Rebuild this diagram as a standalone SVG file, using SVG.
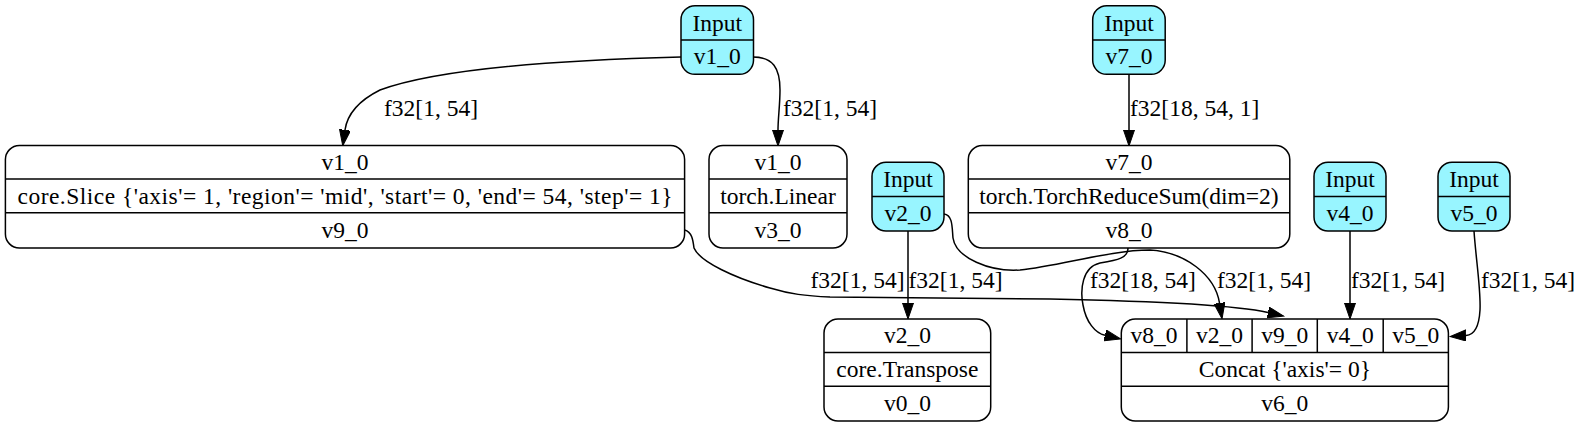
<svg xmlns="http://www.w3.org/2000/svg" width="1578" height="427" viewBox="0 0 1578 427" font-family="'Liberation Serif', 'Times New Roman', Tinos, 'DejaVu Serif', serif">
<style>
text{font-family:'Liberation Serif','Times New Roman',Tinos,'DejaVu Serif',serif;font-size:23.5px;fill:#000}
.c{text-anchor:middle}
.box{fill:#fff;stroke:#000;stroke-width:1.5}
.inp{fill:#98f5ff;stroke:#000;stroke-width:1.5}
.div{stroke:#000;stroke-width:1.5;fill:none}
.edge{fill:none;stroke:#000;stroke-width:1.5;marker-end:url(#arr)}
</style>
<defs>
<marker id="arr" markerUnits="userSpaceOnUse" markerWidth="17" markerHeight="12" refX="0" refY="5.5" orient="auto" viewBox="0 0 17 12">
<path d="M0,0 L16,5.5 L0,11 z" fill="#000" stroke="#000" stroke-width="1"/>
</marker>
</defs>
<rect width="1578" height="427" fill="#fff"/>
<g id="connectors">
<path class="edge" d="M681,57 C560,60 440,68 380,90 C356,102 347,116 345,130"/>
<text x="384" y="116">f32[1, 54]</text>
<path class="edge" d="M753,57 C773,57 780,68 780,90 C780,105 778,118 778,130"/>
<text x="783" y="116">f32[1, 54]</text>
<path class="edge" d="M1129,74 L1129,130"/>
<text x="1130" y="116">f32[18, 54, 1]</text>
<path class="edge" d="M908,231 L908,303"/>
<text x="908.5" y="288">f32[1, 54]</text>
<path class="edge" d="M1350,231 L1350,303"/>
<text x="1351" y="288">f32[1, 54]</text>
<path class="edge" d="M1474,231 C1476,260 1481,290 1480,310 C1479,328 1474,335 1466,335.5"/>
<text x="1481" y="288">f32[1, 54]</text>
<path class="edge" d="M1128,248 C1128,258 1118,260 1100,263 C1082,267 1080,290 1083,305 C1086,322 1095,333 1105,335.3"/>
<text x="1090" y="288">f32[18, 54]</text>
<path class="edge" d="M944,214 C953,215 952,228 953,238 C956,258 990,272 1020,270 C1060,266 1110,250 1150,250 C1185,252 1215,275 1219.5,303"/>
<text x="1217" y="288">f32[1, 54]</text>
<path class="edge" d="M684.6,230 C692,232 693,240 694,248 C700,262 735,278 770,288 C790,294 805,296 830,297 L1050,299 C1150,301 1235,305 1268,312.5"/>
<text x="810.5" y="288">f32[1, 54]</text>
</g>
<g id="in_v1_0">
<rect class="inp" x="681" y="5.7" width="72.5" height="68.6" rx="14"/>
<line class="div" x1="681" y1="40" x2="753.5" y2="40"/>
<text class="c" x="717.2" y="30.5">Input</text>
<text class="c" x="717.2" y="64">v1_0</text>
</g>
<g id="in_v7_0">
<rect class="inp" x="1092.7" y="5.7" width="72.5" height="68.6" rx="14"/>
<line class="div" x1="1092.7" y1="40" x2="1165.2" y2="40"/>
<text class="c" x="1129" y="30.5">Input</text>
<text class="c" x="1129" y="64">v7_0</text>
</g>
<g id="in_v2_0">
<rect class="inp" x="872" y="162.3" width="72" height="68.7" rx="14"/>
<line class="div" x1="872" y1="196.5" x2="944" y2="196.5"/>
<text class="c" x="908" y="187">Input</text>
<text class="c" x="908" y="221">v2_0</text>
</g>
<g id="in_v4_0">
<rect class="inp" x="1314" y="162.3" width="72" height="68.7" rx="14"/>
<line class="div" x1="1314" y1="196.5" x2="1386" y2="196.5"/>
<text class="c" x="1350" y="187">Input</text>
<text class="c" x="1350" y="221">v4_0</text>
</g>
<g id="in_v5_0">
<rect class="inp" x="1438" y="162.3" width="72" height="68.7" rx="14"/>
<line class="div" x1="1438" y1="196.5" x2="1510" y2="196.5"/>
<text class="c" x="1474" y="187">Input</text>
<text class="c" x="1474" y="221">v5_0</text>
</g>
<g id="slice">
<rect class="box" x="5.4" y="145.5" width="679.2" height="102.5" rx="14"/>
<line class="div" x1="5.4" y1="179" x2="684.6" y2="179"/>
<line class="div" x1="5.4" y1="212.7" x2="684.6" y2="212.7"/>
<text class="c" x="345" y="170">v1_0</text>
<text class="c" x="345" y="203.5" textLength="655" lengthAdjust="spacing">core.Slice {'axis'= 1, 'region'= 'mid', 'start'= 0, 'end'= 54, 'step'= 1}</text>
<text class="c" x="345" y="238">v9_0</text>
</g>
<g id="linear">
<rect class="box" x="709" y="145.5" width="138" height="102.5" rx="14"/>
<line class="div" x1="709" y1="179" x2="847" y2="179"/>
<line class="div" x1="709" y1="212.7" x2="847" y2="212.7"/>
<text class="c" x="778" y="170">v1_0</text>
<text class="c" x="778" y="203.5">torch.Linear</text>
<text class="c" x="778" y="238">v3_0</text>
</g>
<g id="reducesum">
<rect class="box" x="968.3" y="145.5" width="321.5" height="102.5" rx="14"/>
<line class="div" x1="968.3" y1="179" x2="1289.8" y2="179"/>
<line class="div" x1="968.3" y1="212.7" x2="1289.8" y2="212.7"/>
<text class="c" x="1129" y="170">v7_0</text>
<text class="c" x="1129" y="203.5">torch.TorchReduceSum(dim=2)</text>
<text class="c" x="1129" y="238">v8_0</text>
</g>
<g id="transpose">
<rect class="box" x="824" y="319" width="166.7" height="102" rx="14"/>
<line class="div" x1="824" y1="352.5" x2="990.7" y2="352.5"/>
<line class="div" x1="824" y1="386.3" x2="990.7" y2="386.3"/>
<text class="c" x="907.4" y="343">v2_0</text>
<text class="c" x="907.4" y="377">core.Transpose</text>
<text class="c" x="907.4" y="411">v0_0</text>
</g>
<g id="concat">
<rect class="box" x="1121.3" y="319" width="327.1" height="102" rx="14"/>
<line class="div" x1="1121.3" y1="352.5" x2="1448.4" y2="352.5"/>
<line class="div" x1="1121.3" y1="386.3" x2="1448.4" y2="386.3"/>
<line class="div" x1="1186.9" y1="319" x2="1186.9" y2="352.5"/>
<line class="div" x1="1252.1" y1="319" x2="1252.1" y2="352.5"/>
<line class="div" x1="1317.3" y1="319" x2="1317.3" y2="352.5"/>
<line class="div" x1="1383.2" y1="319" x2="1383.2" y2="352.5"/>
<text class="c" x="1154.1" y="343">v8_0</text>
<text class="c" x="1219.5" y="343">v2_0</text>
<text class="c" x="1284.7" y="343">v9_0</text>
<text class="c" x="1350.2" y="343">v4_0</text>
<text class="c" x="1415.8" y="343">v5_0</text>
<text class="c" x="1284.85" y="377">Concat {'axis'= 0}</text>
<text class="c" x="1284.85" y="411">v6_0</text>
</g>
</svg>
